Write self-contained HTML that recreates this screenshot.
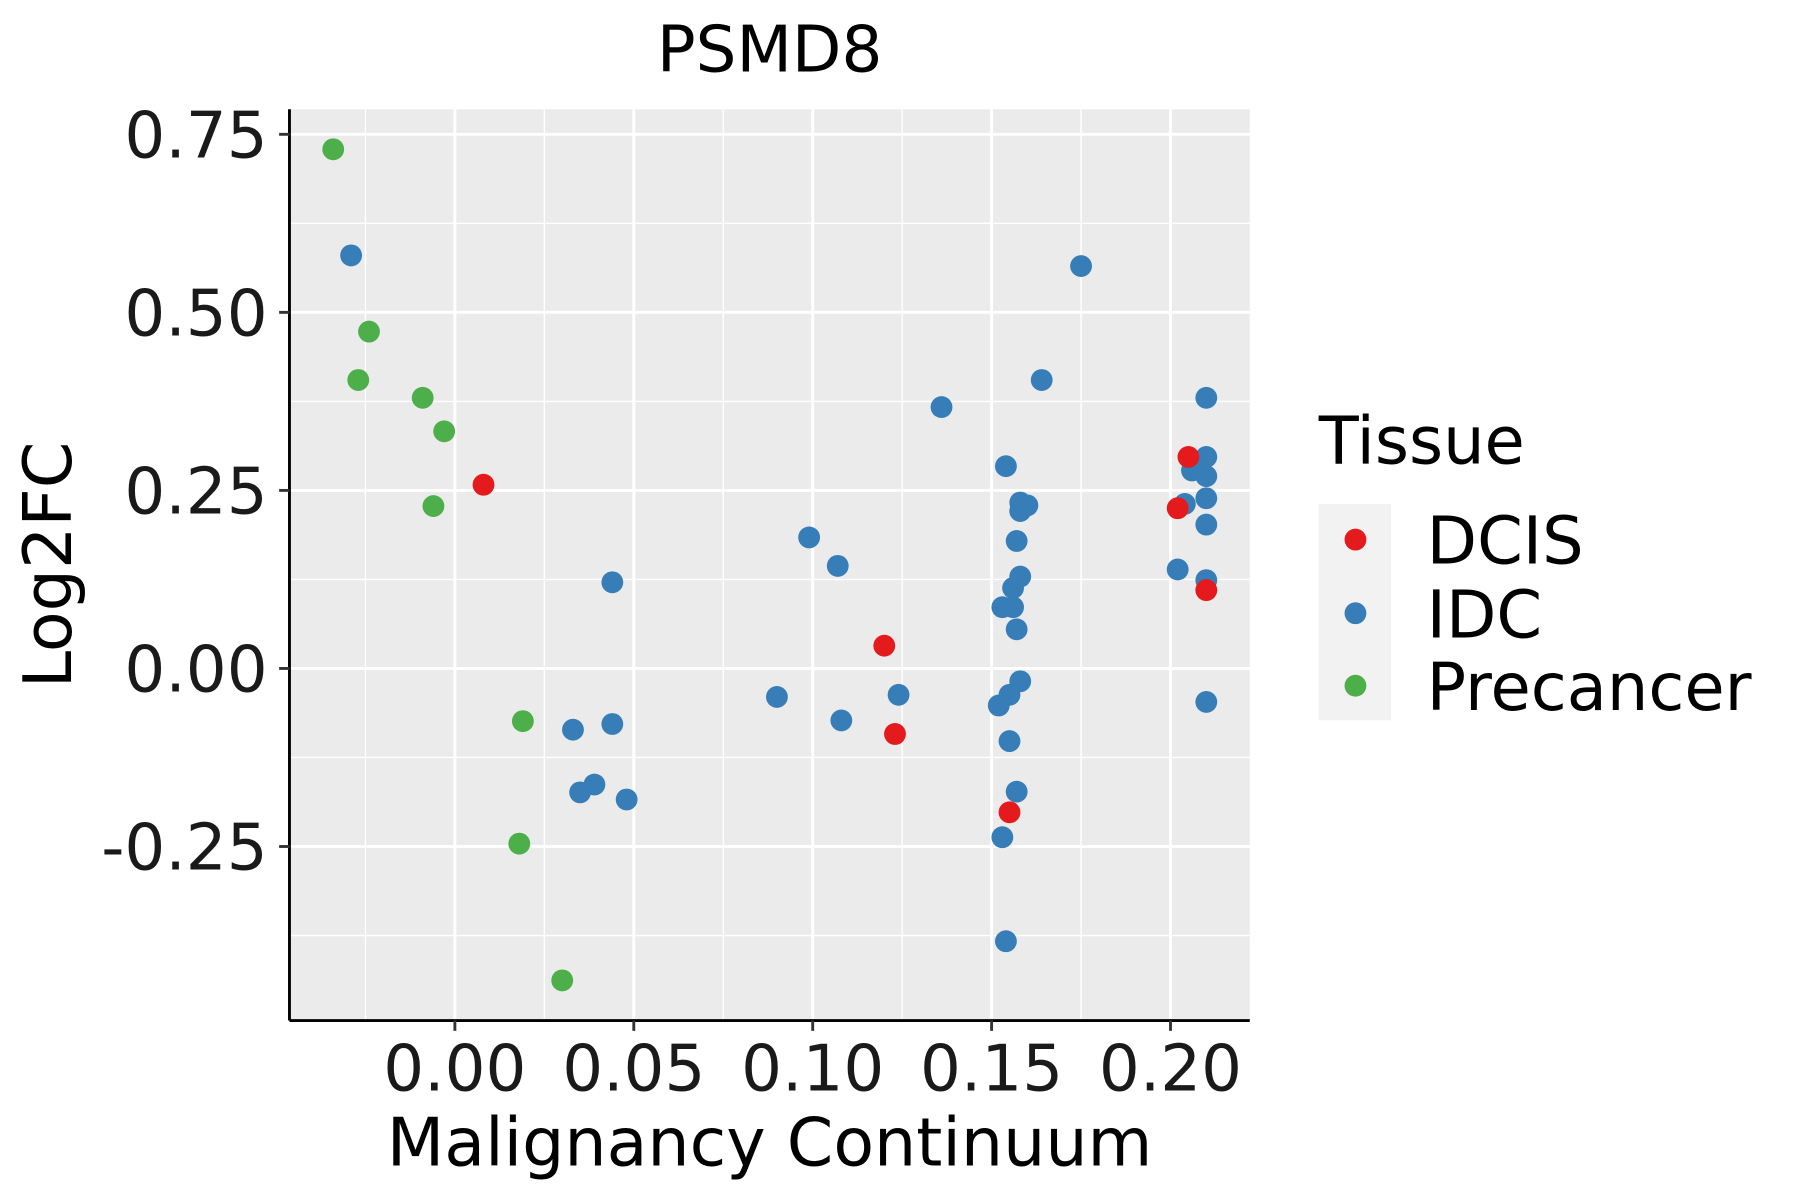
<!DOCTYPE html>
<html><head><meta charset="utf-8"><style>html,body{margin:0;padding:0;background:#fff}svg{display:block}</style></head>
<body>
<svg id="chart" width="1800" height="1200" viewBox="0 0 1567 1043" preserveAspectRatio="none" xmlns="http://www.w3.org/2000/svg" font-family="'DejaVu Sans','Liberation Sans',sans-serif">
<rect width="1567" height="1043" fill="#fff"/>
<rect x="252" y="95" width="836" height="792" fill="#ebebeb"/>
<g id="grid"></g>
<g id="points"></g>
<line x1="252" y1="95" x2="252" y2="887" stroke="#000" stroke-width="2.5"/>
<line x1="252" y1="887" x2="1088" y2="887" stroke="#000" stroke-width="2.5"/>
<g id="ticks"></g>
<text x="670" y="62" font-size="56" text-anchor="middle">PSMD8</text>
<text x="670" y="1013" font-size="58" text-anchor="middle">Malignancy Continuum</text>
<text transform="translate(62,491) rotate(-90)" font-size="58" text-anchor="middle">Log2FC</text>
<g>
<text x="1148" y="403" font-size="57">Tissue</text>
<rect x="1148" y="438" width="63" height="188" fill="#f2f2f2"/>
<circle cx="1180" cy="469" r="9.5" fill="#e41a1c"/>
<circle cx="1180" cy="533" r="9.5" fill="#377eb8"/>
<circle cx="1180" cy="596" r="9.5" fill="#4daf4a"/>
<text x="1242" y="490" font-size="57">DCIS</text>
<text x="1242" y="554" font-size="57">IDC</text>
<text x="1242" y="617" font-size="57">Precancer</text>
</g>
</svg>
<script>
const xTicks=[0,0.05,0.10,0.15,0.20];
const xTickLabels=["0.00","0.05","0.10","0.15","0.20"];
const yTicks=[0.75,0.5,0.25,0,-0.25];
const yTickLabels=["0.75","0.50","0.25","0.00","-0.25"];
const xMinor=[-0.025,0.025,0.075,0.125,0.175];
const yMinor=[0.625,0.375,0.125,-0.125,-0.375];
const precancerX=[-0.034,-0.024,-0.027,-0.009,-0.003,-0.006,0.019,0.018,0.030];
const precancerY=[0.729,0.473,0.405,0.380,0.333,0.228,-0.074,-0.246,-0.438];
const dcisX=[0.008,0.120,0.123,0.155,0.205,0.202,0.210];
const dcisY=[0.258,0.032,-0.092,-0.202,0.297,0.225,0.110];
const idcX=[-0.029,0.044,0.033,0.044,0.035,0.039,0.048,0.090,0.099,0.107,0.108,0.124,0.136,0.175,0.164,0.154,0.158,0.160,0.158,0.157,0.158,0.156,0.153,0.156,0.157,0.158,0.155,0.152,0.155,0.157,0.153,0.154,0.210,0.210,0.206,0.210,0.204,0.210,0.210,0.202,0.210,0.210];
const idcY=[0.580,0.121,-0.086,-0.078,-0.174,-0.163,-0.184,-0.040,0.184,0.144,-0.073,-0.037,0.367,0.565,0.405,0.284,0.233,0.229,0.221,0.179,0.129,0.113,0.086,0.086,0.055,-0.018,-0.037,-0.052,-0.102,-0.173,-0.237,-0.383,0.380,0.297,0.278,0.270,0.231,0.239,0.202,0.139,0.124,-0.047];
const NS="http://www.w3.org/2000/svg";
const xs=v=>396+v*3115;
const ys=v=>581-v*619;
function mk(tag,attrs,parent){const e=document.createElementNS(NS,tag);for(const k in attrs)e.setAttribute(k,attrs[k]);parent.appendChild(e);return e;}
const grid=document.getElementById('grid');
xMinor.forEach(v=>{const l=mk('line',{x1:xs(v),x2:xs(v),y1:95,y2:887,stroke:'#fff','stroke-width':1.2},grid);

});
yMinor.forEach(v=>{const l=mk('line',{x1:252,x2:1088,y1:ys(v),y2:ys(v),stroke:'#fff','stroke-width':1.2},grid);

});
xTicks.forEach(v=>{const l=mk('line',{x1:xs(v),x2:xs(v),y1:95,y2:887,stroke:'#fff','stroke-width':2.5},grid);

});
yTicks.forEach(v=>{const l=mk('line',{x1:252,x2:1088,y1:ys(v),y2:ys(v),stroke:'#fff','stroke-width':2.5},grid);

});
const ticks=document.getElementById('ticks');
xTicks.forEach((v,i)=>{mk('line',{x1:xs(v),x2:xs(v),y1:887,y2:896,stroke:'#333','stroke-width':2.5},ticks);
const t=mk('text',{x:xs(v),y:948,'font-size':56,'text-anchor':'middle',fill:'#1a1a1a'},ticks);t.textContent=xTickLabels[i];

});
yTicks.forEach((v,i)=>{mk('line',{x1:243,x2:252,y1:ys(v),y2:ys(v),stroke:'#333','stroke-width':2.5},ticks);
const t=mk('text',{x:233,y:ys(v)+20,'font-size':56,'text-anchor':'end',fill:'#1a1a1a'},ticks);t.textContent=yTickLabels[i];

});
const pts=document.getElementById('points');
function series(X,Y,col,name){X.forEach((x,i)=>{const c=mk('circle',{cx:xs(x),cy:ys(Y[i]),r:9.5,fill:col},pts);

});}
series(precancerX,precancerY,'#4daf4a','point-precancer');
series(idcX,idcY,'#377eb8','point-idc');
series(dcisX,dcisY,'#e41a1c','point-dcis');
</script>
</body></html>
